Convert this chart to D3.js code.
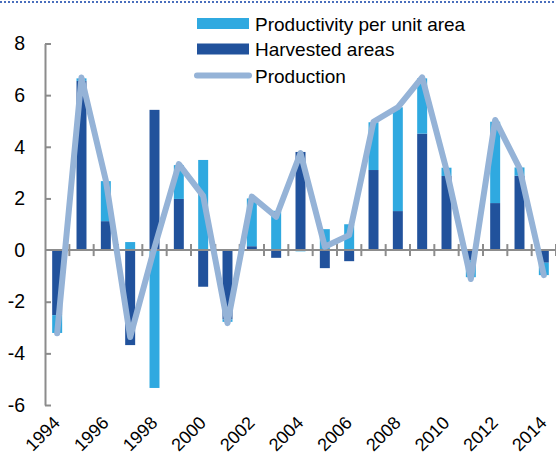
<!DOCTYPE html>
<html lang="en">
	<head>
		<meta charset="utf-8">
		<title>Production growth decomposition</title>
		<script type="text/javascript" src="https://cdn.jsdelivr.net/npm/d3@7"></script>
		<style type="text/css">
			body {
				margin: 0;
				background: #fff;
			}
			text {
				font-family: "Liberation Sans", Arial, sans-serif;
			}
		</style>
	</head>
	<body>
		<script type="text/javascript">

			//Data
			var years = [1994, 1995, 1996, 1997, 1998, 1999, 2000, 2001, 2002, 2003, 2004,
						 2005, 2006, 2007, 2008, 2009, 2010, 2011, 2012, 2013, 2014];
			var harvested = [-2.52, 6.55, 1.12, -3.68, 5.43, 1.98, -1.42, -2.68, 0.15, -0.3, 3.8,
							 -0.7, -0.43, 3.1, 1.51, 4.51, 2.87, -0.4, 1.82, 2.88, -0.49];
			var productivity = [-0.69, 0.1, 1.55, 0.31, -5.34, 1.31, 3.49, -0.1, 1.85, 1.52, -0.05,
								0.81, 1.0, 1.85, 4.02, 2.14, 0.32, -0.65, 3.15, 0.32, -0.48];
			var production = [-3.22, 6.68, 2.7, -3.37, 0.1, 3.33, 2.1, -2.83, 2.07, 1.29, 3.76,
							  0.13, 0.58, 4.97, 5.53, 6.69, 3.1, -1.12, 5.04, 3.17, -0.97];
			var yTicks = [-6, -4, -2, 0, 2, 4, 6, 8];
			var legendLabels = ["Productivity per unit area", "Harvested areas", "Production"];

			//Canvas size and plot edges
			var w = 556;
			var h = 461;
			var x_left = 45;
			var x_right = 556;

			var lightBlue = "#2fa9e0";
			var darkBlue = "#21529c";
			var lineBlue = "#95b3d7";
			var axisGrey = "#8c8c8c";

			var svg = d3.select("body")
						.append("svg")
						.attr("width", w)
						.attr("height", h);

			//Dotted rule along the top
			svg.append("line")
				.attr("x1", 0)
				.attr("x2", w)
				.attr("y1", 2)
				.attr("y2", 2)
				.attr("stroke", "#4a6fbd")
				.attr("stroke-width", 2)
				.attr("stroke-dasharray", "2,2");

			//Scales
			var xScale = d3.scaleBand()
						   .domain(years)
						   .range([x_left, x_right])
						   .paddingInner(0.59)
						   .paddingOuter(0.295);

			var yScale = d3.scaleLinear()
						   .domain([-6, 8])
						   .range([405, 43.5]);

			//Build a table for the diverging stack
			var table = years.map(function(y, i) {
				return { year: y, harvested: harvested[i], productivity: productivity[i] };
			});

			var stacked = d3.stack()
							.keys(["harvested", "productivity"])
							.offset(d3.stackOffsetDiverging)(table);

			var colors = { harvested: darkBlue, productivity: lightBlue };

			svg.selectAll("g.series")
				.data(stacked)
				.enter()
				.append("g")
				.attr("class", "series")
				.attr("fill", function(d) { return colors[d.key]; })
				.selectAll("rect")
				.data(function(d) { return d; })
				.enter()
				.append("rect")
				.attr("x", function(d) { return xScale(d.data.year); })
				.attr("width", xScale.bandwidth())
				.attr("y", function(d) { return yScale(Math.max(d[0], d[1])); })
				.attr("height", function(d) { return Math.abs(yScale(d[0]) - yScale(d[1])); });

			//Y axis: inner ticks, labels set off to the left (plain hyphen for minus)
			var yAxis = d3.axisLeft(yScale)
						  .tickValues(yTicks)
						  .tickSizeInner(-6)
						  .tickSizeOuter(0)
						  .tickPadding(20)
						  .tickFormat(function(d) { return String(d); });

			var yAxisAdd = svg.append("g")
				.attr("transform", "translate(" + x_left + ",0)")
				.call(yAxis);

			yAxisAdd.select(".domain").attr("stroke", axisGrey).attr("stroke-width", 2);
			yAxisAdd.selectAll(".tick line").attr("stroke", axisGrey).attr("stroke-width", 2);
			yAxisAdd.selectAll(".tick text")
				.attr("font-size", "19.5px")
				.attr("fill", "#000");
			yAxisAdd.selectAll(".tick").filter(function(d) { return d === 0; }).select("line").remove();

			//X axis at zero, ticks between the bars
			var y0 = yScale(0);
			var step = xScale.step();
			var boundaries = d3.range(1, years.length + 1).map(function(k) { return x_left + k * step; });

			svg.append("line")
				.attr("x1", x_left)
				.attr("x2", x_right)
				.attr("y1", y0)
				.attr("y2", y0)
				.attr("stroke", axisGrey)
				.attr("stroke-width", 2);

			svg.selectAll("line.xtick")
				.data(boundaries)
				.enter()
				.append("line")
				.attr("class", "xtick")
				.attr("x1", function(d) { return d; })
				.attr("x2", function(d) { return d; })
				.attr("y1", y0 - 6)
				.attr("y2", y0 + 6)
				.attr("stroke", axisGrey)
				.attr("stroke-width", 2);

			//Rotated year labels, every second year (kept inside the frame)
			svg.selectAll("text.xlabel")
				.data(years.filter(function(d, i) { return i % 2 === 0; }))
				.enter()
				.append("text")
				.attr("class", "xlabel")
				.attr("text-anchor", "end")
				.attr("font-size", "18px")
				.attr("transform", function(d) {
					return "translate(" + (xScale(d) + xScale.bandwidth() / 2 + 4) + ",424) rotate(-45)";
				})
				.text(function(d) { return d; });

			//Production line
			var line = d3.line()
						 .x(function(d, i) { return xScale(years[i]) + xScale.bandwidth() / 2; })
						 .y(function(d) { return yScale(d); });

			svg.append("path")
				.datum(production)
				.attr("fill", "none")
				.attr("stroke", lineBlue)
				.attr("stroke-width", 6)
				.attr("stroke-linejoin", "round")
				.attr("stroke-linecap", "round")
				.attr("d", line);

			//Legend
			var legend = svg.append("g").attr("transform", "translate(197,0)");
			var rowY = [23.5, 49, 75.5];

			legend.append("rect")
				.attr("x", 0).attr("y", rowY[0] - 5.5)
				.attr("width", 52).attr("height", 11)
				.attr("fill", lightBlue);
			legend.append("rect")
				.attr("x", 0).attr("y", rowY[1] - 5.5)
				.attr("width", 52).attr("height", 11)
				.attr("fill", darkBlue);
			legend.append("line")
				.attr("x1", 0).attr("x2", 52)
				.attr("y1", rowY[2]).attr("y2", rowY[2])
				.attr("stroke", lineBlue)
				.attr("stroke-width", 6)
				.attr("stroke-linecap", "round");

			legend.selectAll("text.leg")
				.data(legendLabels)
				.enter()
				.append("text")
				.attr("class", "leg")
				.attr("x", 58)
				.attr("y", function(d, i) { return rowY[i] + 7; })
				.attr("font-size", "19px")
				.attr("fill", "#000")
				.text(function(d) { return d; });

		</script>
	</body>
</html>
